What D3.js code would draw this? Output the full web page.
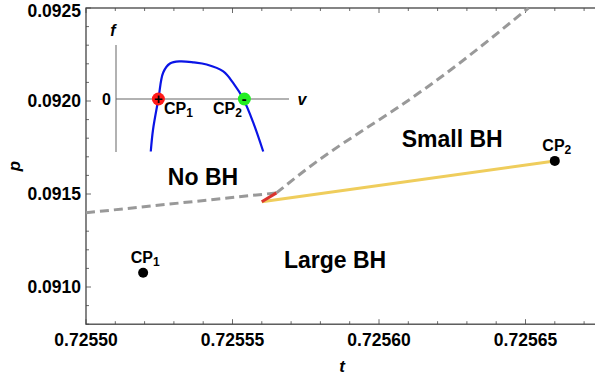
<!DOCTYPE html>
<html lang="en">
<head>
<meta charset="UTF-8">
<title>Phase diagram t-p</title>
<script src="https://d3js.org/d3.v7.min.js"></script>
<style>
  body { margin: 0; background: #fff; }
  svg { display: block; font-family: "Liberation Sans", Arial, Helvetica, sans-serif; }
  .tick-label { font-size: 17.5px; font-weight: bold; fill: #000; }
  .region { font-size: 23px; font-weight: bold; fill: #000; }
  .cp-label { font-size: 16px; font-weight: bold; fill: #000; }
</style>
</head>
<body>
<div id="chart"></div>
<script>
// axis ticks
const xTicks = [0.72550, 0.72555, 0.72560, 0.72565];
const yTicks = [0.0910, 0.0915, 0.0920, 0.0925];

// gray dashed boundaries (no-BH border)
const lowerT = [0.72550, 0.725565];
const lowerP = [0.091399, 0.091506];
const upperT = [0.725565, 0.725583, 0.725605, 0.725628, 0.725651];
const upperP = [0.091506, 0.091722, 0.091950, 0.092210, 0.092500];

// red short segment and yellow coexistence line
const redT = [0.725560, 0.725565];
const redP = [0.091458, 0.091506];
const yellowT = [0.725560, 0.725660];
const yellowP = [0.091458, 0.091678];

// critical points
const cpNames = ["1", "2"];
const cpT = [0.7255195, 0.725660];
const cpP = [0.091077, 0.091678];

// region labels
const regionNames = ["No BH", "Small BH", "Large BH"];
const regionT = [0.72553993, 0.725625, 0.725585];
const regionP = [0.091549, 0.091753, 0.091104];

// inset curve f(v)
const insetV = [2.01, 2.14, 2.45, 2.73, 3.12, 3.70, 4.50, 5.24, 6.20, 6.78, 7.36, 7.94, 8.51];
const insetF = [-0.99, -0.58, 0.00, 0.50, 0.67, 0.71, 0.69, 0.65, 0.52, 0.30, 0.00, -0.45, -0.99];
const insetCpV = [2.45, 7.42];
const insetCpSign = ["+", "-"];
const insetCpColor = ["#ff1a1a", "#22ee22"];

const W = 595, H = 381;
const svg = d3.select("#chart").append("svg").attr("width", W).attr("height", H);

const x = d3.scaleLinear().domain([0.72550, 0.725675]).range([86, 598.75]);
const y = d3.scaleLinear().domain([0.0908, 0.0925]).range([324.2, 8]);

const frameColor = "#444";

// minor ticks (inward)
const xMinor = d3.range(0, 18).map(i => 0.72550 + i * 0.00001);
const yMinor = d3.range(0, 18).map(i => 0.0908 + i * 0.0001);

const ticks = svg.append("g").attr("stroke", frameColor).attr("stroke-width", 0.8);
xMinor.forEach(v => {
  const isMajor = xTicks.some(t => Math.abs(t - v) < 1e-9);
  const len = isMajor ? 5 : 3;
  ticks.append("line").attr("x1", x(v)).attr("x2", x(v)).attr("y1", y.range()[0]).attr("y2", y.range()[0] - len);
  ticks.append("line").attr("x1", x(v)).attr("x2", x(v)).attr("y1", y.range()[1]).attr("y2", y.range()[1] + len);
});
yMinor.forEach(v => {
  const isMajor = yTicks.some(t => Math.abs(t - v) < 1e-9);
  const len = isMajor ? 5 : 3;
  ticks.append("line").attr("x1", x.range()[0]).attr("x2", x.range()[0] + len).attr("y1", y(v)).attr("y2", y(v));
});

// frame
svg.append("rect")
  .attr("x", x.range()[0]).attr("y", y.range()[1])
  .attr("width", x.range()[1] - x.range()[0]).attr("height", y.range()[0] - y.range()[1])
  .attr("fill", "none").attr("stroke", frameColor).attr("stroke-width", 1.3);

// tick labels
svg.selectAll(".xl").data(xTicks).enter().append("text")
  .attr("class", "tick-label").attr("x", d => x(d)).attr("y", 346)
  .attr("text-anchor", "middle").text(d => d.toFixed(5));
svg.selectAll(".yl").data(yTicks).enter().append("text")
  .attr("class", "tick-label").attr("x", 81).attr("y", d => Math.max(y(d), 10.5)).attr("dy", "0.36em")
  .attr("text-anchor", "end").text(d => d.toFixed(4));

// axis titles
svg.append("text").attr("x", 342).attr("y", 372).attr("text-anchor", "middle")
  .attr("font-size", 17).attr("font-weight", "bold").attr("font-style", "italic").text("t");
svg.append("text").attr("transform", "translate(20,166) rotate(-90)").attr("text-anchor", "middle")
  .attr("font-size", 17).attr("font-weight", "bold").attr("font-style", "italic").text("p");

// curves
const line = d3.line().x(d => x(d[0])).y(d => y(d[1]));
const plot = svg.append("g");
plot.append("path").datum(d3.zip(lowerT, lowerP)).attr("d", line)
  .attr("fill", "none").attr("stroke", "#999").attr("stroke-width", 3).attr("stroke-dasharray", "9,5");
plot.append("path").datum(d3.zip(upperT, upperP)).attr("d", line.curve(d3.curveNatural))
  .attr("fill", "none").attr("stroke", "#999").attr("stroke-width", 3).attr("stroke-dasharray", "9,5");
line.curve(d3.curveLinear);
plot.append("path").datum(d3.zip(yellowT, yellowP)).attr("d", line)
  .attr("fill", "none").attr("stroke", "#efcd5c").attr("stroke-width", 3);
plot.append("path").datum(d3.zip(redT, redP)).attr("d", line)
  .attr("fill", "none").attr("stroke", "#d9342e").attr("stroke-width", 3);

// critical points
cpNames.forEach((n, i) => {
  plot.append("circle").attr("cx", x(cpT[i])).attr("cy", y(cpP[i])).attr("r", 5).attr("fill", "#000");
  const t = plot.append("text").attr("class", "cp-label")
    .attr("x", x(cpT[i]) + 2).attr("y", y(cpP[i]) - 10).attr("text-anchor", "middle");
  t.append("tspan").text("CP");
  t.append("tspan").attr("font-size", 12).attr("dy", 3).text(n);
});

// region labels
regionNames.forEach((n, i) => {
  svg.append("text").attr("class", "region").attr("x", x(regionT[i])).attr("y", y(regionP[i]))
    .attr("text-anchor", "middle").text(n);
});

// inset
const vS = d3.scaleLinear().domain([0, 10]).range([116, 289]);
const fS = d3.scaleLinear().domain([-1, 1]).range([152, 46]);
const inset = svg.append("g");
inset.append("line").attr("x1", vS(0)).attr("x2", vS(0)).attr("y1", fS(-1)).attr("y2", fS(1.02))
  .attr("stroke", "#999").attr("stroke-width", 1.5);
inset.append("line").attr("x1", vS(0)).attr("x2", vS(10)).attr("y1", fS(0)).attr("y2", fS(0))
  .attr("stroke", "#666").attr("stroke-width", 1.2);
inset.append("path").datum(d3.zip(insetV, insetF))
  .attr("d", d3.line().x(d => vS(d[0])).y(d => fS(d[1])).curve(d3.curveCatmullRom.alpha(0.5)))
  .attr("fill", "none").attr("stroke", "#0a14e6").attr("stroke-width", 2.2);
inset.append("text").attr("x", vS(0) - 3).attr("y", 36).attr("text-anchor", "middle")
  .attr("font-size", 16).attr("font-weight", "bold").attr("font-style", "italic").text("f");
inset.append("text").attr("x", vS(0) - 5).attr("y", fS(0)).attr("dy", "0.36em").attr("text-anchor", "end")
  .attr("font-size", 16).attr("font-weight", "bold").text("0");
inset.append("text").attr("x", vS(10) + 13).attr("y", fS(0)).attr("dy", "0.36em").attr("text-anchor", "middle")
  .attr("font-size", 16).attr("font-weight", "bold").attr("font-style", "italic").text("v");
insetCpV.forEach((v, i) => {
  inset.append("circle").attr("cx", vS(v)).attr("cy", fS(0)).attr("r", 6.5).attr("fill", insetCpColor[i]);
  inset.append("text").attr("x", vS(v)).attr("y", fS(0)).attr("dy", "0.36em").attr("text-anchor", "middle")
    .attr("font-size", 15).attr("font-weight", "bold").text(insetCpSign[i]);
});
const insetLabelX = [164, 213];
insetCpV.forEach((v, i) => {
  const t = inset.append("text").attr("class", "cp-label").attr("x", insetLabelX[i]).attr("y", 114);
  t.append("tspan").text("CP");
  t.append("tspan").attr("font-size", 12).attr("dy", 3).text(cpNames[i]);
});
</script>
</body>
</html>
